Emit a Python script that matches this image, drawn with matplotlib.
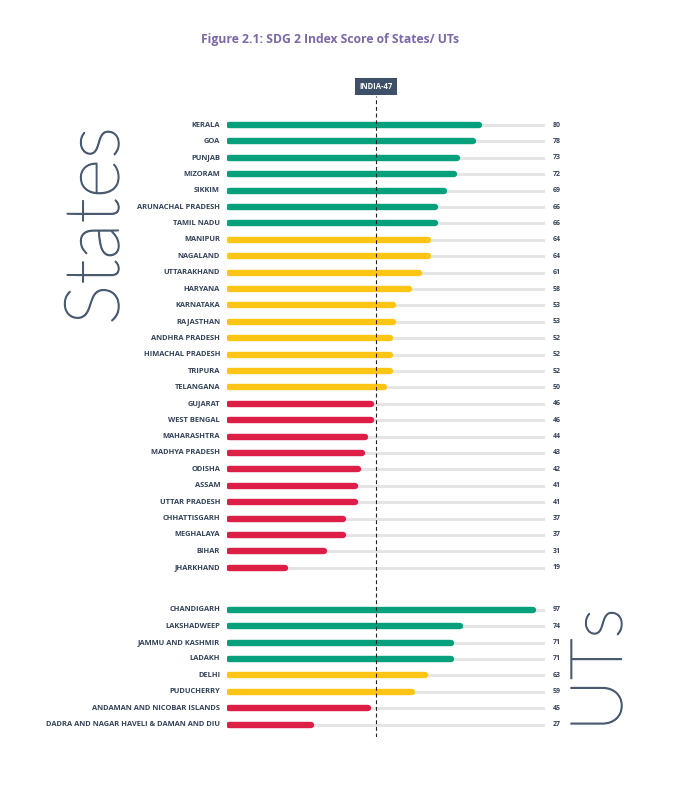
import matplotlib
matplotlib.use('Agg')
import matplotlib.pyplot as plt
import matplotlib.patheffects as pe
import numpy as np

states = ['KERALA', 'GOA', 'PUNJAB', 'MIZORAM', 'SIKKIM', 'ARUNACHAL PRADESH', 'TAMIL NADU',
          'MANIPUR', 'NAGALAND', 'UTTARAKHAND', 'HARYANA', 'KARNATAKA', 'RAJASTHAN',
          'ANDHRA PRADESH', 'HIMACHAL PRADESH', 'TRIPURA', 'TELANGANA', 'GUJARAT',
          'WEST BENGAL', 'MAHARASHTRA', 'MADHYA PRADESH', 'ODISHA', 'ASSAM',
          'UTTAR PRADESH', 'CHHATTISGARH', 'MEGHALAYA', 'BIHAR', 'JHARKHAND']
state_scores = [80, 78, 73, 72, 69, 66, 66, 64, 64, 61, 58, 53, 53, 52, 52, 52, 50,
                46, 46, 44, 43, 42, 41, 41, 37, 37, 31, 19]

uts = ['CHANDIGARH', 'LAKSHADWEEP', 'JAMMU AND KASHMIR', 'LADAKH', 'DELHI', 'PUDUCHERRY',
       'ANDAMAN AND NICOBAR ISLANDS', 'DADRA AND NAGAR HAVELI & DAMAN AND DIU']
ut_scores = [97, 74, 71, 71, 63, 59, 45, 27]

india_score = 47

GREEN = '#07a07c'
YELLOW = '#ffc515'
RED = '#dd1e47'
TEXT = '#34435a'
TRACK = '#e5e5e5'
BIG = '#4a5a70'
FONT = ['Open Sans', 'DejaVu Sans']
BIG_FONT = ['Lato', 'Roboto', 'DejaVu Sans']

def band_colour(v):
    if v >= 65:
        return GREEN
    if v >= 50:
        return YELLOW
    return RED

# row positions: states first, then a gap, then UTs
gap = 2.56
ypos_states = np.arange(len(states))
ypos_uts = len(states) - 1 + gap + np.arange(len(uts))

W, H = 679, 786
fig = plt.figure(figsize=(W / 100, H / 100), dpi=100)
fig.patch.set_facecolor('white')

top_px, bot_px = 95.5, 736.7
ax = fig.add_axes([227 / W, 1 - bot_px / H, 317.5 / W, (bot_px - top_px) / H])
ax.set_xlim(0, 100)
ax.set_ylim(37.3, -1.8)
ax.axis('off')

names = states + uts
scores = state_scores + ut_scores
ypos = list(ypos_states) + list(ypos_uts)

for name, v, y in zip(names, scores, ypos):
    ax.plot([0, 100], [y, y], color=TRACK, lw=2.2, solid_capstyle='butt', zorder=1)
    ax.plot([0.6, v - 0.6], [y, y], color=band_colour(v), lw=4.6,
            solid_capstyle='round', zorder=2)
    ax.text(-2.2, y, name, ha='right', va='center', fontsize=5.4, fontweight='bold',
            color=TEXT, family=FONT)
    ax.text(102.5, y, str(v), ha='left', va='center', fontsize=5, fontweight='bold',
            color=TEXT, family=FONT)

ax.axvline(india_score, color='#222222', lw=0.8, ls=(0, (3.5, 2.5)), zorder=3)
ax.annotate('INDIA-47', xy=(india_score, -1.8), xytext=(0, 3.2), textcoords='offset points',
            ha='center', va='bottom', fontsize=5.5, fontweight='bold', color='white',
            family=FONT, bbox=dict(boxstyle='square,pad=0.55', fc='#3e4f68', ec='none'),
            zorder=4)

fig.text(330 / W, 1 - 40 / H, 'Figure 2.1: SDG 2 Index Score of States/ UTs', ha='center',
         va='center', fontsize=8.7, fontweight='bold', color='#7b68a8', family=FONT)

# big light section labels, thin font thickened a little with a stroke
thicken = [pe.withStroke(linewidth=0.9, foreground=BIG)]
fig.text(98 / W, 1 - 226 / H, 'States', rotation=90, ha='center', va='center',
         fontsize=55, fontweight='light', color=BIG, family=BIG_FONT, path_effects=thicken)
fig.text(602 / W, 1 - 670 / H, 'UTs', rotation=90, ha='center', va='center',
         fontsize=52, fontweight='light', color=BIG, family=BIG_FONT, path_effects=thicken)

fig.savefig('out.png', dpi=100, facecolor='white')
